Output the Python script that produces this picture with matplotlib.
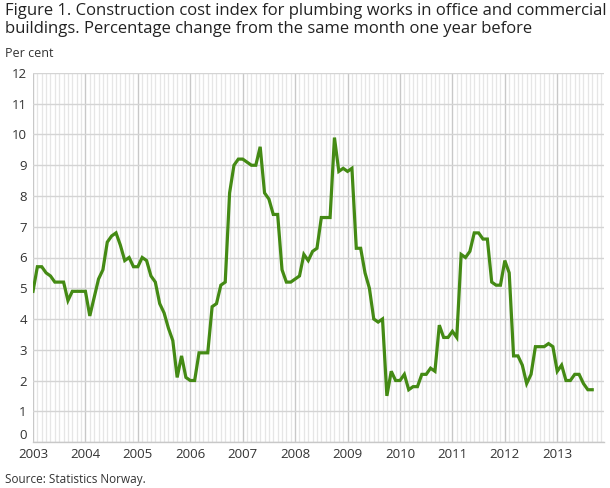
import matplotlib
matplotlib.use("Agg")
import matplotlib.pyplot as plt
import numpy as np

years = [2003, 2004, 2005, 2006, 2007, 2008, 2009, 2010, 2011, 2012, 2013]
values = [
    # 2003
    4.9, 5.7, 5.7, 5.5, 5.4, 5.2, 5.2, 5.2, 4.6, 4.9, 4.9, 4.9,
    # 2004
    4.9, 4.1, 4.7, 5.3, 5.6, 6.5, 6.7, 6.8, 6.4, 5.9, 6.0, 5.7,
    # 2005
    5.7, 6.0, 5.9, 5.4, 5.2, 4.5, 4.2, 3.7, 3.3, 2.1, 2.8, 2.1,
    # 2006
    2.0, 2.0, 2.9, 2.9, 2.9, 4.4, 4.5, 5.1, 5.2, 8.1, 9.0, 9.2,
    # 2007
    9.2, 9.1, 9.0, 9.0, 9.6, 8.1, 7.9, 7.4, 7.4, 5.6, 5.2, 5.2,
    # 2008
    5.3, 5.4, 6.1, 5.9, 6.2, 6.3, 7.3, 7.3, 7.3, 9.9, 8.8, 8.9,
    # 2009
    8.8, 8.9, 6.3, 6.3, 5.5, 5.0, 4.0, 3.9, 4.0, 1.5, 2.3, 2.0,
    # 2010
    2.0, 2.2, 1.7, 1.8, 1.8, 2.2, 2.2, 2.4, 2.3, 3.8, 3.4, 3.4,
    # 2011
    3.6, 3.4, 6.1, 6.0, 6.2, 6.8, 6.8, 6.6, 6.6, 5.2, 5.1, 5.1,
    # 2012
    5.9, 5.5, 2.8, 2.8, 2.5, 1.9, 2.2, 3.1, 3.1, 3.1, 3.2, 3.1,
    # 2013
    2.3, 2.5, 2.0, 2.0, 2.2, 2.2, 1.9, 1.7, 1.7,
]
y_ticks = list(range(0, 13))

title = ("Figure 1. Construction cost index for plumbing works in office and commercial\n"
         "buildings. Percentage change from the same month one year before")
unit_label = "Per cent"
source = "Source: Statistics Norway."

plt.rcParams['font.family'] = ['Open Sans', 'DejaVu Sans']
text_color = "#333333"
line_color = "#448a14"

fig = plt.figure(figsize=(6.1, 4.88), dpi=100)
ax = fig.add_axes([33/610, 1 - 442/488, (604 - 33)/610, (442 - 73)/488])

x = np.arange(len(values))

# vertical month gridlines
for m in range(0, 131):
    if m % 12 == 0:
        continue
    ax.axvline(m, color="#e6e6e6", lw=0.9, zorder=0)
for i, yr in enumerate(years):
    ax.axvline(i * 12, color="#c8c8c8", lw=1.0, zorder=0.5)
for yv in y_ticks:
    ax.axhline(yv, color="#d4d4d4", lw=1.0, zorder=0.6)

ax.plot(x, values, color=line_color, lw=2.3, solid_joinstyle="miter", zorder=3)

ax.set_xlim(0, 130.7)
ax.set_ylim(0, 12)
ax.set_yticks(y_ticks)
ax.set_yticklabels([str(v) for v in y_ticks])
ax.set_xticks([i * 12 for i in range(len(years))])
ax.set_xticklabels([str(y) for y in years])
ax.tick_params(axis="both", length=0, labelsize=9.5, colors=text_color)
ax.tick_params(axis="x", pad=4.5)
ax.tick_params(axis="y", pad=4.5)
# nudge the "0" label slightly upward so it does not collide with "2003"
for lbl in ax.get_yticklabels():
    if lbl.get_text() == "0":
        lbl.set_verticalalignment("bottom")
        lbl.set_y(-0.25)
for s in ["top", "right", "left"]:
    ax.spines[s].set_visible(False)
ax.spines["bottom"].set_color("#c8c8c8")
ax.spines["bottom"].set_linewidth(1.0)

fig.text(5/610, 1 - 3/488, title, ha="left", va="top", fontsize=12,
         color="#222222", linespacing=1.15)
fig.text(5/610, 1 - 53.5/488, unit_label, ha="left", va="center", fontsize=9,
         color=text_color)
fig.text(5/610, 1 - 479/488, source, ha="left", va="center", fontsize=8.5,
         color=text_color)

fig.savefig("out.png", dpi=100)
